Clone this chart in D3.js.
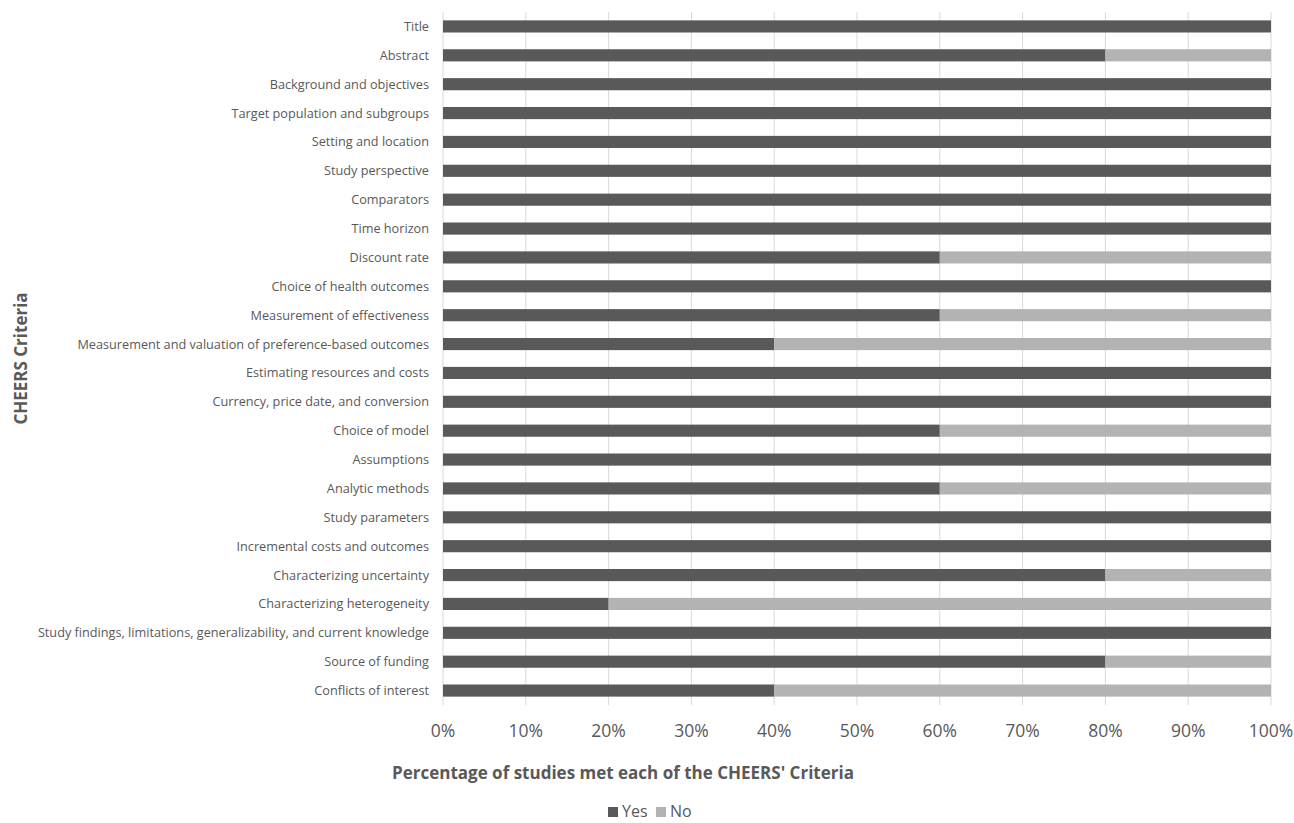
<!DOCTYPE html>
<html>
<head>
<meta charset="utf-8">
<script src="https://cdn.jsdelivr.net/npm/d3@7"></script>
<style>
  body { margin: 0; background: #fff; }
  svg text { font-family: "Open Sans", sans-serif; fill: #595959; }
</style>
</head>
<body>
<div id="chart"></div>
<script>
// Criteria, top to bottom
var criteria = [
  "Title",
  "Abstract",
  "Background and objectives",
  "Target population and subgroups",
  "Setting and location",
  "Study perspective",
  "Comparators",
  "Time horizon",
  "Discount rate",
  "Choice of health outcomes",
  "Measurement of effectiveness",
  "Measurement and valuation of preference-based outcomes",
  "Estimating resources and costs",
  "Currency, price date, and conversion",
  "Choice of model",
  "Assumptions",
  "Analytic methods",
  "Study parameters",
  "Incremental costs and outcomes",
  "Characterizing uncertainty",
  "Characterizing heterogeneity",
  "Study findings, limitations, generalizability, and current knowledge",
  "Source of funding",
  "Conflicts of interest"
];

// Share of studies (%)
var yesValues = [100, 80, 100, 100, 100, 100, 100, 100, 60, 100, 60, 40, 100, 100, 60, 100, 60, 100, 100, 80, 20, 100, 80, 40];
var noValues  = [0, 20, 0, 0, 0, 0, 0, 0, 40, 0, 40, 60, 0, 0, 40, 0, 40, 0, 0, 20, 80, 0, 20, 60];

var seriesNames = ["Yes", "No"];
var seriesColors = ["#595959", "#b3b3b3"];
var xTicks = [0, 10, 20, 30, 40, 50, 60, 70, 80, 90, 100];

var width = 1294, height = 823;
var margin = { top: 12, right: 23, bottom: 118, left: 443 };

var svg = d3.select("#chart").append("svg")
  .attr("width", width)
  .attr("height", height);

var x = d3.scaleLinear().domain([0, 100]).range([margin.left, width - margin.right]);
var y = d3.scaleBand().domain(criteria).range([margin.top, height - margin.bottom]).paddingInner(0.58).paddingOuter(0.29);

// gridlines
svg.append("g")
  .selectAll("line")
  .data(xTicks)
  .join("line")
  .attr("x1", d => x(d)).attr("x2", d => x(d))
  .attr("y1", margin.top).attr("y2", height - margin.bottom)
  .attr("stroke", "#d9d9d9")
  .attr("stroke-width", 1);

// stacked bars
var table = criteria.map((c, i) => ({ name: c, Yes: yesValues[i], No: noValues[i] }));
var stacked = d3.stack().keys(seriesNames)(table);

svg.append("g")
  .selectAll("g")
  .data(stacked)
  .join("g")
  .attr("fill", (d, i) => seriesColors[i])
  .selectAll("rect")
  .data(d => d)
  .join("rect")
  .attr("x", d => x(d[0]))
  .attr("width", d => x(d[1]) - x(d[0]))
  .attr("y", d => y(d.data.name))
  .attr("height", y.bandwidth());

// category labels
svg.append("g")
  .selectAll("text")
  .data(criteria)
  .join("text")
  .attr("x", margin.left - 14)
  .attr("y", d => y(d) + y.bandwidth() / 2)
  .attr("dy", "0.35em")
  .attr("text-anchor", "end")
  .attr("font-size", 12.7)
  .text(d => d);

// x tick labels
svg.append("g")
  .selectAll("text")
  .data(xTicks)
  .join("text")
  .attr("x", d => x(d))
  .attr("y", 737)
  .attr("text-anchor", "middle")
  .attr("font-size", 17.5)
  .text(d => d + "%");

// axis titles
svg.append("text")
  .attr("x", 623)
  .attr("y", 779)
  .attr("text-anchor", "middle")
  .attr("font-size", 17)
  .attr("font-weight", "bold")
  .text("Percentage of studies met each of the CHEERS' Criteria");

svg.append("text")
  .attr("transform", "translate(27," + (margin.top + (height - margin.bottom - margin.top) / 2) + ") rotate(-90)")
  .attr("text-anchor", "middle")
  .attr("font-size", 17)
  .attr("font-weight", "bold")
  .text("CHEERS Criteria");

// legend
var legend = svg.append("g").attr("transform", "translate(608,817)");
var items = legend.selectAll("g")
  .data(seriesNames)
  .join("g")
  .attr("transform", (d, i) => "translate(" + (i * 48) + ",0)");
items.append("rect")
  .attr("x", 0).attr("y", -10)
  .attr("width", 10).attr("height", 10)
  .attr("fill", (d, i) => seriesColors[i]);
items.append("text")
  .attr("x", 14).attr("y", 0)
  .attr("font-size", 16)
  .text(d => d);
</script>
</body>
</html>
